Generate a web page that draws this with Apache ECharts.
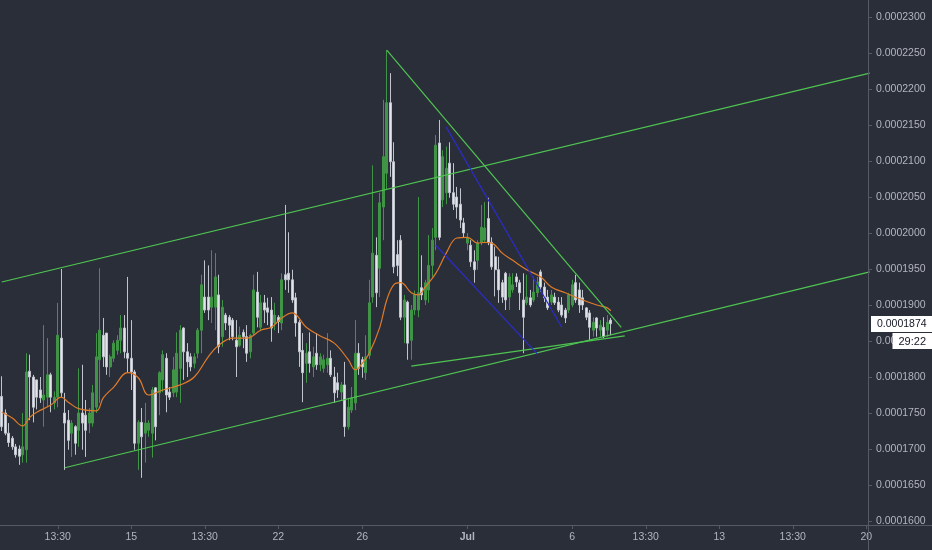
<!DOCTYPE html>
<html><head><meta charset="utf-8">
<script src="https://cdn.jsdelivr.net/npm/echarts@6/dist/echarts.min.js"></script>
<style>html,body{margin:0;padding:0;background:#2a2e39;}#c{width:932px;height:550px;}</style>
</head><body><div id="c"></div>
<script>
// prices are in units of 0.0000001
const opens  = [1773,1750,1722,1715,1703,1700,1692,1699,1808,1800,1796,1782,1768,1772,1803,1764,1772,1854,1750,1740,
1722,1731,1726,1750,1747,1736,1736,1758,1824,1858,1861,1814,1826,1837,1851,1868,1833,1826,1807,1708,
1737,1722,1726,1722,1785,1778,1796,1826,1779,1778,1779,1812,1868,1835,1828,1819,1833,1865,1911,1911,
1897,1897,1914,1856,1886,1883,1879,1851,1844,1862,1856,1835,1861,1918,1869,1903,1896,1893,1875,1883,
1875,1942,1944,1935,1910,1876,1837,1819,1835,1814,1833,1817,1812,1817,1826,1800,1792,1779,1789,1731,
1754,1764,1833,1824,1806,1830,1911,1969,1951,2036,2083,2181,2099,1970,1990,1883,1904,1851,1893,1893,
1924,1907,1921,1955,1994,2125,2046,2056,2097,2056,2050,2040,2014,1986,1983,1960,1962,1987,1990,2020,
1987,1967,1949,1931,1944,1911,1921,1939,1931,1907,1903,1910,1907,1917,1946,1925,1911,1904,1911,1904,
1900,1893,1893,1900,1931,1921,1910,1896,1889,1865,1882,1865,1869,1865,1879];
const closes = [1731,1722,1709,1703,1692,1690,1703,1807,1800,1758,1772,1771,1775,1803,1772,1772,1858,1778,1736,1712,
1736,1708,1750,1736,1726,1750,1778,1828,1865,1828,1814,1828,1847,1851,1868,1835,1826,1807,1708,1737,
1717,1736,1736,1782,1731,1806,1831,1775,1772,1810,1833,1865,1835,1821,1814,1828,1865,1928,1893,1893,
1911,1939,1842,1897,1875,1872,1856,1842,1858,1856,1833,1858,1921,1883,1903,1893,1890,1868,1886,1877,
1935,1935,1935,1907,1875,1835,1806,1833,1819,1828,1817,1828,1824,1826,1803,1778,1782,1789,1731,1758,
1771,1833,1812,1814,1828,1903,1972,1917,2042,2106,2181,2099,1953,1955,1883,1907,1847,1893,1914,1917,
1914,1931,1955,1990,2122,1994,2106,2090,2056,2040,2036,2018,2000,1994,1960,1949,1986,2008,2007,1987,
1953,1949,1921,1911,1907,1939,1928,1932,1917,1883,1911,1900,1918,1932,1925,1910,1896,1914,1903,1893,
1886,1882,1914,1928,1907,1900,1900,1883,1869,1876,1868,1872,1856,1876,1874];
const lows   = [1725,1719,1703,1699,1688,1678,1681,1681,1740,1737,1755,1764,1731,1758,1751,1755,1758,1772,1671,1699,
1689,1692,1703,1699,1689,1722,1731,1750,1764,1814,1803,1800,1821,1831,1833,1826,1806,1782,1699,1671,
1660,1681,1717,1688,1712,1747,1779,1751,1768,1772,1772,1764,1796,1800,1808,1812,1826,1833,1889,1879,
1875,1865,1833,1842,1865,1851,1851,1800,1842,1840,1821,1826,1858,1869,1865,1875,1872,1849,1865,1861,
1865,1921,1917,1903,1856,1814,1765,1792,1806,1800,1810,1808,1806,1806,1800,1764,1771,1768,1717,1727,
1750,1754,1803,1799,1796,1825,1903,1897,1911,1990,2060,2078,1944,1940,1879,1847,1824,1824,1886,1883,
1907,1900,1903,1939,1976,1990,2036,2040,2049,2032,2020,2007,1994,1976,1953,1931,1949,1983,1986,1983,
1949,1912,1903,1903,1893,1893,1917,1925,1893,1833,1900,1897,1904,1911,1918,1904,1893,1900,1900,1890,
1883,1875,1889,1897,1903,1889,1893,1879,1851,1856,1856,1856,1854,1856,1858];
const highs  = [1801,1755,1736,1718,1707,1705,1750,1833,1831,1803,1796,1800,1872,1854,1806,1780,1903,1950,1778,1754,
1740,1733,1812,1817,1768,1757,1789,1861,1951,1882,1861,1831,1851,1858,1886,1886,1939,1879,1810,1740,
1757,1764,1740,1786,1786,1808,1837,1833,1786,1828,1862,1872,1869,1847,1833,1833,1868,1942,1962,1955,
1976,1972,1942,1907,1889,1886,1882,1879,1870,1866,1872,1860,1942,1946,1914,1914,1910,1911,1903,1886,
1944,2039,2001,1949,1917,1879,1861,1847,1862,1842,1861,1833,1831,1861,1837,1814,1806,1793,1821,1771,
1786,1879,1847,1828,1858,1935,2094,1994,2056,2185,2254,2222,2126,1990,1997,1914,1906,1900,1920,2050,
1969,1935,1997,2007,2136,2157,2115,2120,2126,2097,2064,2062,2021,2000,1990,1976,1990,2039,2043,2049,
1994,1981,1967,1935,1946,1944,1944,1944,1935,1944,1942,1921,1939,1939,1949,1931,1921,1921,1917,1911,
1911,1896,1917,1935,1942,1931,1921,1897,1893,1883,1883,1879,1883,1886,1882];
// orange moving average: [candle index, value]
const maPoints = [[0,1751],[3,1743],[6,1732],[8,1744],[10,1751],[14,1761],[17,1772],[19,1765],[22,1756],[27,1753],
[29,1771],[32,1786],[36,1806],[39,1799],[42,1775],[46,1782],[51,1789],[55,1800],[59,1828],[62,1844],
[66,1854],[70,1854],[74,1865],[77,1869],[80,1882],[83,1889],[87,1869],[91,1857],[95,1847],[99,1824],
[101,1810],[103,1819],[105,1833],[108,1869],[110,1907],[112,1928],[114,1931],[117,1917],[119,1914],[121,1925],
[124,1944],[127,1972],[130,1993],[133,1994],[136,1986],[138,1987],[140,1986],[143,1972],[146,1962],[150,1949],
[154,1939],[157,1925],[161,1917],[166,1907],[170,1900],[173,1896],[174,1892]];
const tickIndex = [16,37,58,79,103,133,163,184,205,226,247];
const tickText  = ['13:30','15','13:30','22','26','Jul','6','13:30','13','13:30','20'];
const slotCount = 248;
// drawn trend lines: [candle index, value]
const upperChannel   = [[-0.5,1932],[247.5,2222]];
const lowerChannel   = [[17.5,1674],[247.5,1946]];
const triangleTop    = [[110.4,2254],[176.6,1869]];
const triangleBottom = [[117.2,1815],[177.5,1857]];
const blueUpper      = [[127.2,2147],[160.4,1869]];
const blueLower      = [[124.4,1983],[153.0,1832]];
const countdown = '29:22';

const categories = [];
const t0 = Date.UTC(2020,5,8,20);
for (let i = 0; i < slotCount; i++) {
  const d = new Date(t0 + i*4*3600*1000);
  categories.push(d.toISOString().slice(0,16));
}
const candles = opens.map((o,i)=>[o, closes[i], lows[i], highs[i]]);
const lastPrice = closes[closes.length-1];
const fmt = v => (v*1e-7).toFixed(7);
const labelColor = '#b2b5be';
const axisColor = '#565a65';
const font = 'Liberation Sans';
const green = '#4fc551';
const blue = '#2c2cc8';

function trend(data, color){
  return {type:'line', data, symbol:'none', silent:true, smooth:false, z:3,
    lineStyle:{color, width:1.2}, animation:false};
}

const chart = echarts.init(document.getElementById('c'), null, {renderer:'canvas'});
chart.setOption({
  backgroundColor:'#2a2e39',
  animation:false,
  grid:{left:0, right:64, top:17, bottom:29},
  xAxis:{type:'category', data:categories, boundaryGap:true, offset:4,
    axisLine:{show:false},
    axisTick:{show:true, length:4, alignWithLabel:true, interval:(i)=>tickIndex.includes(i), lineStyle:{color:axisColor}},
    axisLabel:{interval:(i)=>tickIndex.includes(i), margin:7, color:labelColor, fontSize:10.5, fontFamily:font,
      formatter:(v,i)=>{const k=tickIndex.indexOf(i); if(k<0) return ''; const t=tickText[k]; return t==='Jul'?'{b|Jul}':t;},
      rich:{b:{fontWeight:'bold', color:labelColor, fontSize:10.5, fontFamily:font}}},
    splitLine:{show:false}},
  yAxis:{type:'value', position:'right', min:1600, max:2300, interval:50, scale:true,
    axisLine:{show:false},
    axisTick:{show:true, length:4, lineStyle:{color:axisColor}},
    axisLabel:{color:labelColor, fontSize:10.5, fontFamily:font, margin:8, formatter:fmt},
    splitLine:{show:false}},
  series:[
    {type:'candlestick', data:candles, barWidth:'65%', z:2,
      itemStyle:{color:'#3f9446', color0:'#e2e4ea', borderColor:'#3f9446', borderColor0:'#c0c4cc', borderWidth:1}},
    {type:'line', data:maPoints, symbol:'none', smooth:0.4, silent:true, z:3,
      lineStyle:{color:'#e07b2a', width:1.2}},
    trend(upperChannel,green),
    trend(lowerChannel,green),
    trend(triangleTop,green),
    trend(triangleBottom,green),
    trend(blueUpper,blue),
    trend(blueLower,blue)
  ]
});
const py = chart.convertToPixel({yAxisIndex:0}, lastPrice);
chart.setOption({
  graphic:[
    {type:'line', z:50, silent:true, shape:{x1:868.5,y1:0,x2:868.5,y2:550}, style:{stroke:axisColor, lineWidth:1}},
    {type:'line', z:50, silent:true, shape:{x1:0,y1:525.5,x2:932,y2:525.5}, style:{stroke:axisColor, lineWidth:1}},
    {type:'text', z:60, silent:true, left:871, top:Math.round(py)-8,
      style:{text:fmt(lastPrice), fill:'#131722', backgroundColor:'#ffffff', padding:[3,10,2,6], font:'10.5px "Liberation Sans"'}},
    {type:'text', z:60, silent:true, right:0, top:Math.round(py)+9,
      style:{text:countdown, fill:'#131722', backgroundColor:'#ffffff', padding:[3,6,2,6], font:'11px "Liberation Sans"'}}
  ]
});
</script>
</body></html>
